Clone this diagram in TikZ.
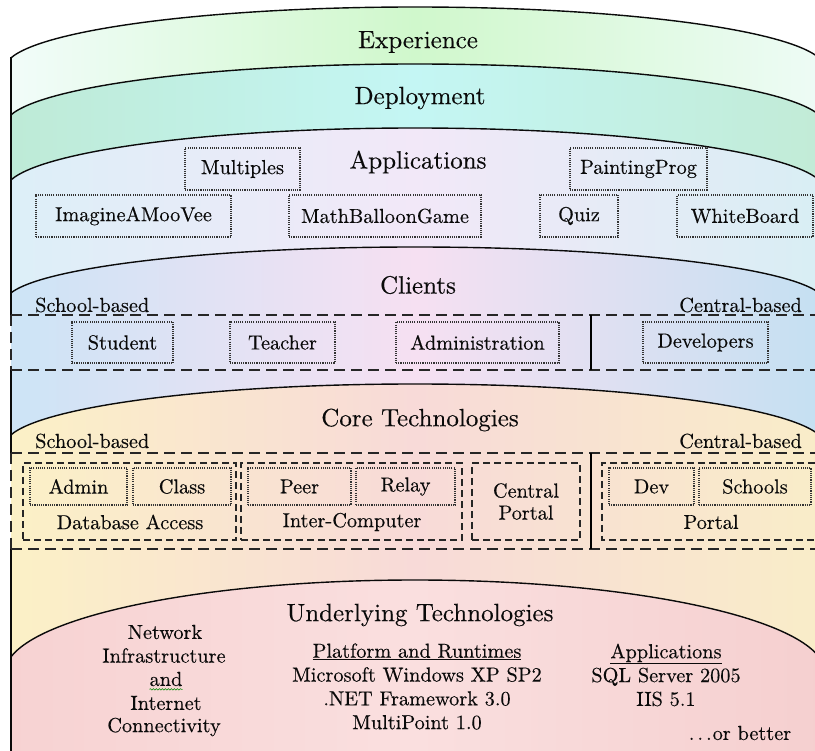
\documentclass[tikz,border=0pt]{standalone}
\usepackage{fontspec}
\setmainfont{lmroman10-regular.otf}[FakeBold=0.3]
\usetikzlibrary{decorations.pathmorphing}
\definecolor{exL}{HTML}{F2FCFA}\definecolor{exM}{HTML}{D0F8CC}\definecolor{exR}{HTML}{EEFBF6}
\definecolor{deL}{HTML}{BEEAD6}\definecolor{deM}{HTML}{C4F6F4}\definecolor{deR}{HTML}{C2EBD6}
\definecolor{apL}{HTML}{DCEFF8}\definecolor{apM}{HTML}{F2E8F8}\definecolor{apR}{HTML}{D8EEF4}
\definecolor{clL}{HTML}{CCE4F6}\definecolor{clM}{HTML}{F6E0F2}\definecolor{clR}{HTML}{C4E0F2}
\definecolor{coL}{HTML}{FBF1C6}\definecolor{coM}{HTML}{F8DAD8}\definecolor{coR}{HTML}{F9EDC8}
\definecolor{unL}{HTML}{F7D2D2}\definecolor{unM}{HTML}{FADFDF}\definecolor{unR}{HTML}{F5CFCF}
\definecolor{ink}{HTML}{0A0A0A}
\begin{document}
\begin{tikzpicture}[x=1pt,y=-1pt,
  title/.style={font=\fontsize{25}{29}\selectfont, inner sep=0pt, text=ink},
  body/.style={font=\fontsize{20.3}{23.8}\selectfont, inner sep=0pt, text=ink},
  dotbox/.style={draw=black!80, line width=1.1pt, dash pattern=on 1.1pt off 1.1pt, inner sep=0pt, font=\fontsize{20.3}{24}\selectfont, text=ink},
  bigdash/.style={draw=black!85, line width=1.8pt, dash pattern=on 11pt off 6pt},
  smalldashbox/.style={draw=black!85, line width=1.3pt, dash pattern=on 7pt off 4pt, inner sep=0pt, font=\fontsize{20.3}{22}\selectfont, text=ink, align=center},
  smalldash/.style={draw=black!85, line width=1.3pt, dash pattern=on 7pt off 4pt},
  divider/.style={draw=black, line width=1.8pt},
  arcline/.style={draw=ink, line width=1.4pt},
  cylline/.style={draw=ink, line width=1.4pt},
]
\useasboundingbox (0,0) rectangle (815,751);
\fill[white] (0,0) rectangle (815,751);

% ---- layers ----
\begin{scope}
\clip (11,0) rectangle (815,751);
\shade[left color=exL, right color=exR, middle color=exM] (5,68.4) arc[start angle=180, end angle=360, x radius=410, y radius=61.4] -- (825,751) -- (5,751) -- cycle;
\shade[left color=deL, right color=deR, middle color=deM] (5,125.4) arc[start angle=180, end angle=360, x radius=410, y radius=61.4] -- (825,751) -- (5,751) -- cycle;
\shade[left color=apL, right color=apR, middle color=apM] (5,190.7) arc[start angle=180, end angle=360, x radius=410, y radius=62.7] -- (825,751) -- (5,751) -- cycle;
\shade[left color=clL, right color=clR, middle color=clM] (5,302.4) arc[start angle=180, end angle=360, x radius=410, y radius=55.4] -- (825,751) -- (5,751) -- cycle;
\shade[left color=coL, right color=coR, middle color=coM] (5,445.4) arc[start angle=180, end angle=360, x radius=410, y radius=61.4] -- (825,751) -- (5,751) -- cycle;
\shade[left color=unL, right color=unR, middle color=unM] (5,672.8) arc[start angle=180, end angle=360, x radius=410, y radius=92.8] -- (825,751) -- (5,751) -- cycle;
\draw[arcline] (5,68.4) arc[start angle=180, end angle=360, x radius=410, y radius=61.4];
\draw[arcline] (5,125.4) arc[start angle=180, end angle=360, x radius=410, y radius=61.4];
\draw[arcline] (5,190.7) arc[start angle=180, end angle=360, x radius=410, y radius=62.7];
\draw[arcline] (5,302.4) arc[start angle=180, end angle=360, x radius=410, y radius=55.4];
\draw[arcline] (5,445.4) arc[start angle=180, end angle=360, x radius=410, y radius=61.4];
\draw[arcline] (5,672.8) arc[start angle=180, end angle=360, x radius=410, y radius=92.8];
\end{scope}

% cylinder left side
\draw[cylline] (11,57) -- (11,315);
\draw[cylline] (11,370) -- (11,453);
\draw[cylline] (11,549) -- (11,751);

% ---- Experience / Deployment ----
\node[title] (exp) at (418,42) {Experience};
\node[title] (dep) at (420,98) {Deployment};

% ---- Applications ----
\node[title] (apps) at (418,162) {Applications};
\node[dotbox, minimum width=115pt, minimum height=42pt] (mult) at (242.5,169) {Multiples};
\node[dotbox, minimum width=137pt, minimum height=42pt] (paint) at (638.5,169) {PaintingProg};
\node[dotbox, minimum width=195pt, minimum height=42pt] (imag) at (133.5,216) {ImagineAMooVee};
\node[dotbox, minimum width=192pt, minimum height=42pt] (math) at (385,216) {MathBalloonGame};
\node[dotbox, minimum width=78pt, minimum height=42pt] (quiz) at (579,216) {Quiz};
\node[dotbox, minimum width=136pt, minimum height=42pt] (white) at (745,216) {WhiteBoard};

% ---- Clients ----
\node[title] (cli) at (418,285) {Clients};
\node[body, anchor=west] (cschool) at (35,305) {School-based};
\node[body, anchor=east] (ccentral) at (802,305) {Central-based};
\draw[bigdash] (11,315) -- (815,315);
\draw[bigdash] (11,370) -- (815,370);
\draw[bigdash] (11,315) -- (11,370);
\draw[divider] (591,315) -- (591,370);
\node[dotbox, minimum width=101pt, minimum height=41pt] (student) at (122.5,342.5) {Student};
\node[dotbox, minimum width=105pt, minimum height=41pt] (teacher) at (282.5,342.5) {Teacher};
\node[dotbox, minimum width=163pt, minimum height=41pt] (admin) at (477.5,342.5) {Administration};
\node[dotbox, minimum width=125pt, minimum height=41pt] (devs) at (705.5,342.5) {Developers};

% ---- Core Technologies ----
\node[title] (core) at (420,420) {Core Technologies};
\node[body, anchor=west] (kschool) at (35,441) {School-based};
\node[body, anchor=east] (kcentral) at (802,441) {Central-based};
\draw[bigdash] (11,453) -- (815,453);
\draw[bigdash] (11,549) -- (815,549);
\draw[bigdash] (11,453) -- (11,549);
\draw[divider] (591,453) -- (591,549);
\node[smalldashbox, minimum width=213pt, minimum height=77pt] (dbbox) at (129.5,501.5) {};
\node[smalldashbox, minimum width=221pt, minimum height=77pt] (icbox) at (351.5,501.5) {};
\node[smalldashbox, minimum width=108pt, minimum height=77pt] (cpbox) at (526,501.5) {Central\\Portal};
\draw[smalldash] (815,463) -| (602,540) -- (815,540);
\node[dotbox, minimum width=97pt, minimum height=37pt] (kadmin) at (78.5,486.5) {Admin};
\node[dotbox, minimum width=98pt, minimum height=37pt] (kclass) at (182,486.5) {Class};
\node[dotbox, minimum width=103pt, minimum height=37pt] (kpeer) at (299.5,486.5) {Peer};
\node[dotbox, minimum width=99pt, minimum height=37pt] (krelay) at (405.5,486.5) {Relay};
\node[dotbox, minimum width=85pt, minimum height=37pt] (kdev) at (651.5,486.5) {Dev};
\node[dotbox, minimum width=112pt, minimum height=37pt] (kschools) at (755,486.5) {Schools};
\node[body] (dblabel) at (130,522) {Database Access};
\node[body] (iclabel) at (352,522) {Inter-Computer};
\node[body] (portallabel) at (711,522) {Portal};

% ---- Underlying Technologies ----
\node[title] (und) at (420,615) {Underlying Technologies};
\node[body] (net1) at (165,632) {Network};
\node[body] (net2) at (164,655.5) {Infrastructure};
\node[body] (net3) at (166,679) {and};
\node[body] (net4) at (166,703) {Internet};
\node[body] (net5) at (164,727) {Connectivity};
\draw[green!55!black, line width=0.6pt, decorate, decoration={snake, amplitude=0.7pt, segment length=3pt}] ([yshift=-3pt]net3.south west) -- ([yshift=-3pt]net3.south east);
\node[body, align=center] (plat) at (417,686.5) {\underline{Platform and Runtimes}\\Microsoft Windows XP SP2\\.NET Framework 3.0\\MultiPoint 1.0};
\node[body, align=center] (appl) at (666,675) {\underline{Applications}\\SQL Server 2005\\IIS 5.1};
\node[body] (better) at (740,733) {.\hspace{3pt}.\hspace{3pt}.\hspace{1pt}or better};
\end{tikzpicture}
\end{document}
